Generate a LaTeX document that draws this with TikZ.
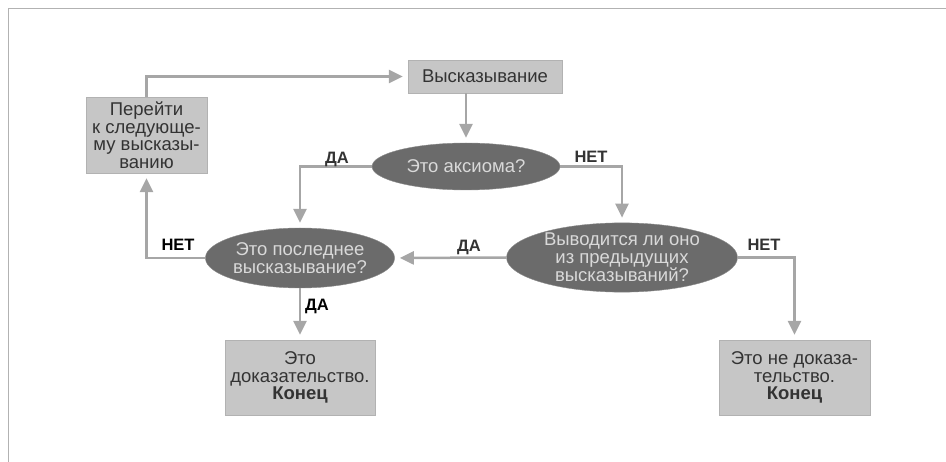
\documentclass[tikz,border=0pt]{standalone}
\usepackage{fontspec}
\setmainfont{Liberation Sans}
\usetikzlibrary{arrows.meta, shapes.geometric, calc}

\tikzset{
  stepbox/.style={rectangle, fill=gray!45, draw=gray!60, inner sep=0pt,
    text=black!80, align=center, font=\fontsize{18.5}{17.5}\selectfont},
  query/.style={ellipse, fill=black!58, draw=black!45, inner sep=0pt,
    text=gray!30, align=center, font=\fontsize{18.5}{17.5}\selectfont},
  link/.style={draw=gray!70, line width=2.5pt,
    -{Triangle[width=13pt,length=14pt]}, shorten >=5pt},
  answer/.style={font=\bfseries\fontsize{16.5}{17}\selectfont, text=black!80},
  answerdark/.style={answer, text=black},
}

\begin{document}
\begin{tikzpicture}[x=1pt, y=-1pt]
  \useasboundingbox (0,0) rectangle (946,462);
  % page frame: top and left edges only
  \draw[gray!60, line width=1pt] (8,462) -- (8,9) -- (946,9);

  % boxes
  \node[stepbox, minimum width=154, minimum height=33] (stmt) at (485,76.5) {Высказывание};
  \node[stepbox, minimum width=121, minimum height=76] (next) at (146.5,135)
    {Перейти\\к следующе-\\му высказы-\\ванию};
  \node[stepbox, minimum width=150, minimum height=75] (proof) at (300,377.5)
    {Это\\доказательство.\\\textbf{Конец}};
  \node[stepbox, minimum width=151, minimum height=75] (notproof) at (794.5,377.5)
    {Это не доказа-\\тельство.\\\textbf{Конец}};

  % questions
  \node[query, minimum width=188, minimum height=47] (axiom) at (466,166.5) {Это аксиома?};
  \node[query, minimum width=186, minimum height=60] (last) at (300,258)
    {Это последнее\\высказывание?};
  \node[query, minimum width=231, minimum height=69] (derived) at (622,257.5)
    {Выводится ли оно\\из предыдущих\\высказываний?};

  % connectors
  \draw[link] (stmt.south -| axiom.north) -- (axiom.north);
  \draw[link] (next.north) |- (stmt.west);
  \draw[link] (axiom.west) -| (last.north);
  \draw[link] (axiom.east) -| (derived.north);
  \draw[link] (derived.west) -- (last.east);
  \draw[link] (derived.east) -| (notproof.north);
  \draw[link] (last.west) -| (next.south);
  \draw[link] (last.south) -- (proof.north);

  % answers
  \node[answer] (yes1) at (337,159) {ДА};
  \node[answer] (no1) at (591,157) {НЕТ};
  \node[answer] (yes2) at (469,247) {ДА};
  \node[answer] (no2) at (764,245) {НЕТ};
  \node[answerdark] (no3) at (178,245) {НЕТ};
  \node[answerdark] (yes3) at (317,306) {ДА};
\end{tikzpicture}
\end{document}
